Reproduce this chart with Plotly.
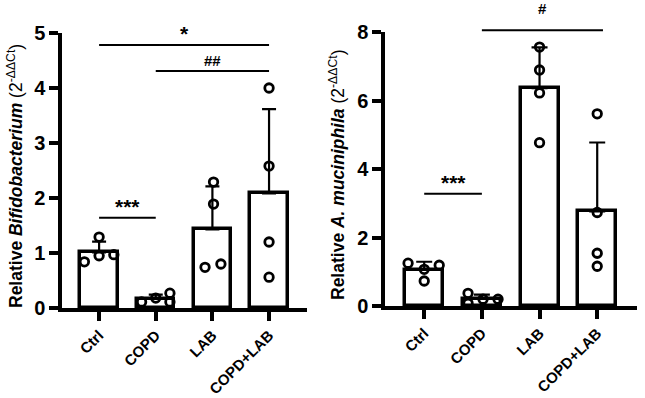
import numpy as np
import plotly.graph_objects as go

# ---------------- data ----------------
categories = ["Ctrl", "COPD", "LAB", "COPD+LAB"]

bifido_ctrl = [0.84, 1.29, 0.95, 0.97]
bifido_copd = [0.11, 0.18, 0.27, 0.11]
bifido_lab = [0.74, 0.80, 1.89, 2.29]
bifido_copd_lab = [4.00, 2.58, 1.20, 0.56]

akk_ctrl = [1.25, 1.07, 0.73, 1.19]
akk_copd = [0.37, 0.08, 0.20, 0.20]
akk_lab = [7.56, 6.89, 6.22, 4.77]
akk_copd_lab = [5.61, 2.73, 1.54, 1.16]

bifido_ticks = [0, 1, 2, 3, 4, 5]
akk_ticks = [0, 2, 4, 6, 8]

# significance annotations: (group a, group b, bar level, label)
bifido_sig = [(0, 3, 4.78, "*"), (1, 3, 4.31, "##"), (0, 1, 1.64, "***")]
akk_sig = [(0, 1, 3.28, "***"), (1, 3.1, 8.05, "#")]

# ---------------- layout / style ----------------
W, H = 645, 398
FONT = "Arial, 'Liberation Sans', sans-serif"
bifido_jitter = [[-0.26, 0, 0, 0.26], [-0.25, 0, 0.25, 0.25], [-0.13, 0.15, 0.02, 0.02], [0, 0, 0, 0]]
akk_jitter = [[-0.28, 0, 0, 0.26], [-0.24, -0.24, 0.02, 0.28], [0, 0, 0, 0], [0, 0, 0, 0]]
SIG_STYLE = {"*": (21, -2), "***": (21, -2), "##": (15, 0), "#": (15, 11)}  # (font size, yshift)

panels = [
    dict(groups=[bifido_ctrl, bifido_copd, bifido_lab, bifido_copd_lab], jitter=bifido_jitter,
         ticks=bifido_ticks, sig=bifido_sig, xdom=(62 / W, 307 / W), ydom=((H - 308) / H, (H - 33) / H),
         xrange=[-0.655, 3.67], cap=7,
         title="<b>Relative <i>Bifidobacterium</i></b> (2<sup>-ΔΔCt</sup>)",
         tx=15 / W, ty=(H - 176) / H, axn=""),
    dict(groups=[akk_ctrl, akk_copd, akk_lab, akk_copd_lab], jitter=akk_jitter,
         ticks=akk_ticks, sig=akk_sig, xdom=(385 / W, 637 / W), ydom=((H - 306) / H, (H - 32) / H),
         xrange=[-0.68, 3.69], cap=8,
         title="<b>Relative <i>A. muciniphila</i></b> (2<sup>-ΔΔCt</sup>)",
         tx=337 / W, ty=(H - 174) / H, axn="2"),
]

fig = go.Figure()
shapes, annotations = [], []

for p in panels:
    xa = "x" + p["axn"]
    ya = "y" + p["axn"]
    means = [float(np.mean(g)) for g in p["groups"]]
    sds = [float(np.std(g, ddof=1)) for g in p["groups"]]
    xs = list(range(len(categories)))
    fig.add_trace(go.Bar(
        x=xs, y=means, width=0.66, xaxis=xa, yaxis=ya,
        marker=dict(color="white", line=dict(color="black", width=3.5)),
        error_y=dict(type="data", symmetric=False, array=sds, arrayminus=[0] * len(sds),
                     color="black", thickness=2.2, width=p["cap"]),
        showlegend=False, hoverinfo="skip"))
    px_, py_ = [], []
    for i, g in enumerate(p["groups"]):
        for j, v in enumerate(g):
            px_.append(i + p["jitter"][i][j])
            py_.append(v)
    fig.add_trace(go.Scatter(
        x=px_, y=py_, mode="markers", xaxis=xa, yaxis=ya, cliponaxis=False,
        marker=dict(symbol="circle-open", size=8.5, color="black", line=dict(width=2.8, color="black")),
        showlegend=False, hoverinfo="skip"))

    ymax = p["ticks"][-1]
    y0, y1 = p["ydom"]

    def to_paper(v, y0=y0, y1=y1, ymax=ymax):
        return y0 + v / ymax * (y1 - y0)

    for a, b, lvl, lab in p["sig"]:
        shapes.append(dict(type="line", xref=xa, yref="paper", x0=a, x1=b,
                           y0=to_paper(lvl), y1=to_paper(lvl), line=dict(color="black", width=2)))
        fs, ysh = SIG_STYLE[lab]
        annotations.append(dict(xref=xa, yref="paper", x=(a + b) / 2, y=to_paper(lvl),
                                yanchor="bottom", yshift=ysh, showarrow=False, text="<b>" + lab + "</b>",
                                font=dict(family=FONT, size=fs, color="black")))
    annotations.append(dict(xref="paper", yref="paper", x=p["tx"], y=p["ty"], textangle=-90,
                            showarrow=False, text=p["title"], xanchor="center", yanchor="middle",
                            font=dict(family=FONT, size=17.5, color="black")))

    axkw = dict(showline=True, linecolor="black", linewidth=3.5, ticks="outside", ticklen=9,
                tickwidth=3.5, tickcolor="black", showgrid=False, zeroline=False, automargin=False)
    fig.layout["xaxis" + p["axn"]] = dict(
        domain=list(p["xdom"]), range=p["xrange"], anchor=ya, tickmode="array",
        tickvals=xs, ticktext=categories, tickangle=-45, ticklabelstandoff=0,
        tickfont=dict(family=FONT, size=15, color="black", weight="bold"), **axkw)
    fig.layout["yaxis" + p["axn"]] = dict(
        domain=list(p["ydom"]), range=[0, ymax], anchor=xa, tickmode="array", ticklabelstandoff=0,
        tickvals=p["ticks"], tickfont=dict(family=FONT, size=20, color="black", weight="bold"), **axkw)

fig.update_layout(width=W, height=H, margin=dict(l=0, r=0, t=0, b=0, autoexpand=False),
                  template="none", paper_bgcolor="white", plot_bgcolor="white",
                  shapes=shapes, annotations=annotations, bargap=0)
fig.write_html("out.html", config={"displayModeBar": False},
               post_script="document.body.style.margin='0px';")
